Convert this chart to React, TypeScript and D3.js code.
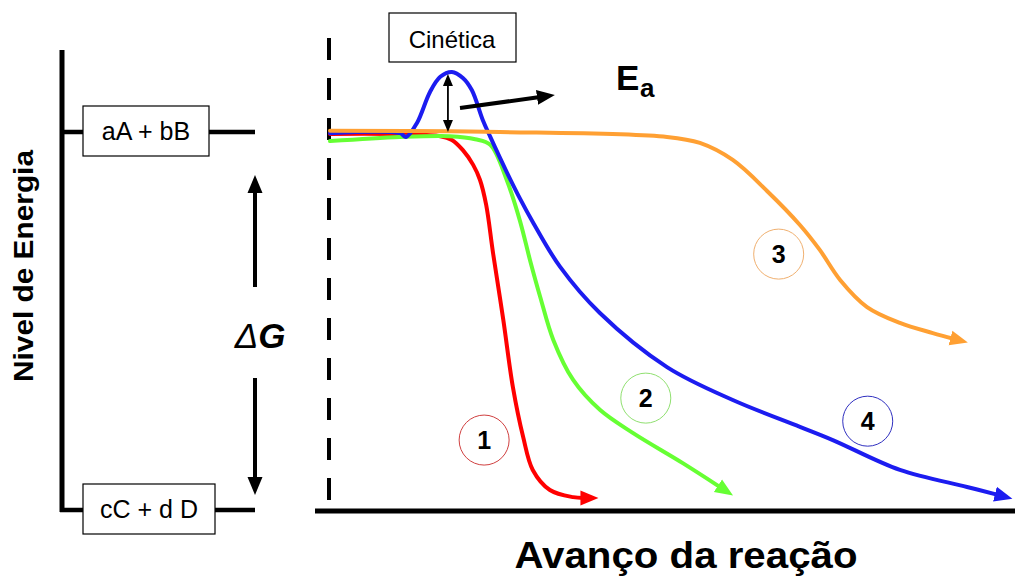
import * as d3 from 'd3';

// Reaction progress (0-100) vs energy level (0 = products, 100 = reactants)
const curve1 = [
  [0, 99.5], [16.1, 98.9], [17.8, 97.9], [19.4, 95.2], [20.9, 91.3], [21.9, 87.3],
  [22.8, 80.7], [23.8, 68.0], [25.3, 50.3], [26.7, 32.5], [28.2, 19.3], [29.6, 10.6],
  [32.1, 5.3], [35.5, 3.4], [37.0, 3.2],
];
const curve2 = [
  [0, 97.6], [10.2, 98.7], [17.5, 98.9], [21.2, 98.1], [23.4, 96.6], [25.8, 87.3],
  [27.7, 76.7], [29.2, 66.1], [30.7, 56.3], [32.6, 45.0], [35.5, 34.4], [39.4, 26.5],
  [44.2, 20.4], [51.5, 12.4], [57.0, 6.0],
];
const curve3 = [
  [0, 100.3], [24.8, 100.0], [49.2, 98.7], [54.0, 97.1], [58.8, 92.6], [63.8, 84.4],
  [68.6, 75.4], [71.5, 68.8], [74.5, 60.8], [78.4, 53.7], [83.2, 49.5], [88.0, 46.8],
  [91.0, 45.3],
];
const curve4 = [
  [0, 99.7], [10.2, 99.7], [11.1, 98.7], [12.7, 102.4], [14.6, 110.6], [16.1, 114.6],
  [17.8, 115.9], [19.4, 114.3], [20.7, 111.1], [22.3, 103.2], [23.4, 98.7], [25.8, 89.4],
  [27.7, 82.5], [29.6, 76.2], [33.6, 64.3], [39.4, 52.1], [49.2, 37.8], [58.8, 29.1],
  [68.6, 22.0], [73.4, 18.5], [83.2, 10.6], [93.0, 6.1], [97.5, 4.0],
];

const seriesNames = ['1', '2', '3', '4'];
const seriesColors = ['#ff0000', '#66ff33', '#ffa033', '#1c1cf0'];
const circleColors = ['#d04040', '#90e070', '#f0b070', '#3030c0'];
const labelPos = [[22.5, 18.5], [46.1, 29.6], [65.5, 67.7], [78.5, 23.5]];

const levelLabels = ['aA + bB', 'cC + d D'];
const levelValues = [100, 0];

const FONT = '"Liberation Sans", Arial, Helvetica, sans-serif';

export default function App() {
  const width = 1015;
  const height = 577;

  const x = d3.scaleLinear().domain([0, 100]).range([330, 1015]);
  const y = d3.scaleLinear().domain([0, 100]).range([510, 132]);

  const line = d3.line<number[]>()
    .x(d => x(d[0]))
    .y(d => y(d[1]))
    .curve(d3.curveCatmullRom.alpha(0.5));

  const curves = [curve1, curve2, curve3, curve4];
  // drawing order: red, green, blue, orange on top
  const order = [0, 1, 3, 2];

  const peak = curve4.reduce((a, b) => (b[1] > a[1] ? b : a));
  const eaX = x(peak[0]) - 4;

  return (
    <svg width={width} height={height} style={{ position: 'absolute', left: 0, top: 0, background: '#fff' }}
      fontFamily={FONT}>
      <defs>
        {seriesColors.map((c, i) => (
          <marker key={i} id={`arrow-${i}`} markerUnits="userSpaceOnUse" markerWidth={24} markerHeight={20}
            viewBox="0 -10 24 20" refX={3} refY={0} orient="auto">
            <path d="M0,-7.5L18,0L0,7.5Z" fill={c} />
          </marker>
        ))}
        <marker id="arrow-black" markerUnits="userSpaceOnUse" markerWidth={24} markerHeight={20}
          viewBox="0 -10 24 20" refX={3} refY={0} orient="auto">
          <path d="M0,-7.5L18,0L0,7.5Z" fill="#000" />
        </marker>
        <marker id="arrow-small" markerUnits="userSpaceOnUse" markerWidth={14} markerHeight={12}
          viewBox="0 -6 14 12" refX={2} refY={0} orient="auto-start-reverse">
          <path d="M0,-5L12,0L0,5Z" fill="#000" />
        </marker>
      </defs>

      {/* left energy level panel */}
      <line x1={62} x2={62} y1={50} y2={512} stroke="#000" strokeWidth={5} />
      {levelValues.map((v, i) => {
        const yy = y(v);
        const bw = i === 0 ? 126 : 132;
        return (
          <g key={i}>
            <line x1={60} x2={255} y1={yy} y2={yy} stroke="#000" strokeWidth={4.5} />
            <rect x={83} y={yy - 26} width={bw} height={50} fill="#fff" stroke="#000" strokeWidth={1.2} />
            <text x={83 + bw / 2} y={yy + 8} textAnchor="middle" fontSize={25}>{levelLabels[i]}</text>
          </g>
        );
      })}
      <line x1={255} x2={255} y1={287} y2={190} stroke="#000" strokeWidth={4} markerEnd="url(#arrow-black)" />
      <line x1={255} x2={255} y1={378} y2={480} stroke="#000" strokeWidth={4} markerEnd="url(#arrow-black)" />
      <text x={260} y={348} textAnchor="middle" fontSize={35} fontStyle="italic">
        <tspan fontWeight="normal">Δ</tspan><tspan fontWeight="bold">G</tspan>
      </text>
      <text transform="translate(33,266) rotate(-90)" textAnchor="middle" fontSize={28} fontWeight="bold"
        textLength={232} lengthAdjust="spacingAndGlyphs">
        Nivel de Energia
      </text>

      {/* main axes */}
      <line x1={329} x2={329} y1={38} y2={510} stroke="#000" strokeWidth={4} strokeDasharray="22 18" />
      <line x1={315} x2={1015} y1={511} y2={511} stroke="#000" strokeWidth={5} />
      <text x={686} y={568} textAnchor="middle" fontSize={37} fontWeight="bold"
        textLength={343} lengthAdjust="spacingAndGlyphs">Avanço da reação</text>

      {/* curves */}
      {order.map(i => (
        <path key={i} d={line(curves[i] as number[][]) || ''} fill="none" stroke={seriesColors[i]}
          strokeWidth={4} strokeLinecap="round" markerEnd={`url(#arrow-${i})`} />
      ))}

      {/* activation energy */}
      <line x1={eaX} x2={eaX} y1={y(peak[1]) + 12} y2={y(100) - 10} stroke="#000" strokeWidth={1.8}
        markerStart="url(#arrow-small)" markerEnd="url(#arrow-small)" />
      <line x1={460} x2={540} y1={108} y2={97} stroke="#000" strokeWidth={4} markerEnd="url(#arrow-black)" />
      <text x={616} y={90} fontSize={35} fontWeight="bold">E</text>
      <text x={640} y={97} fontSize={26} fontWeight="bold">a</text>
      <rect x={389} y={13} width={127} height={49} fill="#fff" stroke="#000" strokeWidth={1.2} />
      <text x={452} y={48} textAnchor="middle" fontSize={24}>Cinética</text>

      {/* numbered labels */}
      {labelPos.map((p, i) => (
        <g key={i} transform={`translate(${x(p[0])},${y(p[1])})`}>
          <circle r={25} fill="none" stroke={circleColors[i]} strokeWidth={1} />
          <text y={9} textAnchor="middle" fontSize={25} fontWeight="bold">{seriesNames[i]}</text>
        </g>
      ))}
    </svg>
  );
}
